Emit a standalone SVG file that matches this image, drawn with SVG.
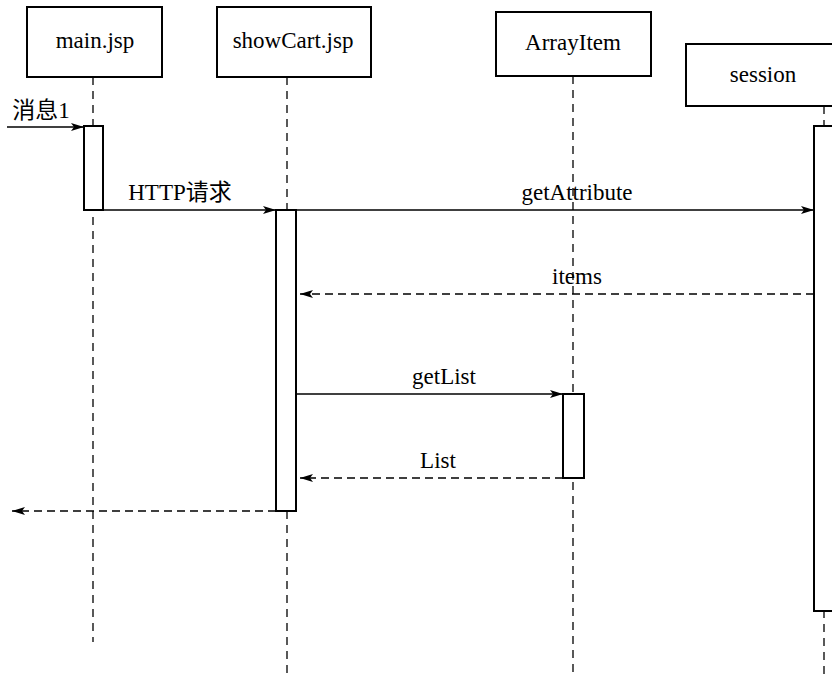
<svg xmlns="http://www.w3.org/2000/svg" width="832" height="675" viewBox="0 0 832 675">
  <style>
    .box { fill: #fff; stroke: #000; stroke-width: 2; }
    .act { fill: #fff; stroke: #000; stroke-width: 2; }
    .life { stroke: #000; stroke-width: 1.3; stroke-dasharray: 8 6; fill: none; }
    .msg { stroke: #000; stroke-width: 1.3; fill: none; marker-end: url(#arrow); }
    .ret { stroke: #000; stroke-width: 1.3; fill: none; stroke-dasharray: 8 5; marker-end: url(#arrow); }
    text { font-family: 'Liberation Serif', 'Noto Sans CJK SC', serif; font-size: 23px; fill: #000; text-anchor: middle; }
  </style>
  <defs>
    <marker id="arrow" markerWidth="14" markerHeight="10" refX="13" refY="5" orient="auto" markerUnits="userSpaceOnUse">
      <path d="M0,1 L13,5 L0,9 L3,5 Z" fill="#000"/>
    </marker>
  </defs>
  <rect width="832" height="675" fill="#fff"/>

  <!-- lifelines -->
  <g id="lifelines">
    <line class="life" x1="93" y1="77" x2="93" y2="642"/>
    <line class="life" x1="287" y1="77" x2="287" y2="675"/>
    <line class="life" x1="573" y1="76" x2="573" y2="675"/>
    <line class="life" x1="824" y1="106" x2="824" y2="675"/>
  </g>

  <!-- participants -->
  <g id="main-jsp">
    <rect class="box" x="27" y="7" width="135" height="70"/>
    <text x="95" y="48">main.jsp</text>
    <rect class="act" x="84" y="126" width="19" height="84"/>
  </g>
  <g id="showCart-jsp">
    <rect class="box" x="217" y="7" width="154" height="70"/>
    <text x="293" y="48">showCart.jsp</text>
    <rect class="act" x="276" y="210" width="20" height="301"/>
  </g>
  <g id="ArrayItem">
    <rect class="box" x="496" y="12" width="155" height="64"/>
    <text x="573" y="50">ArrayItem</text>
    <rect class="act" x="563" y="394" width="21" height="84"/>
  </g>
  <g id="session">
    <rect class="box" x="686" y="44" width="160" height="62"/>
    <text x="763" y="82">session</text>
    <rect class="act" x="814" y="126" width="22" height="485"/>
  </g>

  <!-- messages -->
  <g id="connectors">
    <line class="msg" x1="7" y1="127" x2="84" y2="127"/>
    <text x="41" y="118">消息1</text>

    <line class="msg" x1="103" y1="210" x2="276" y2="210"/>
    <text x="180" y="200">HTTP请求</text>

    <line class="msg" x1="296" y1="210" x2="814" y2="210"/>
    <text x="577" y="200">getAttribute</text>

    <line class="ret" x1="814" y1="294" x2="300" y2="294"/>
    <text x="577" y="284">items</text>

    <line class="msg" x1="296" y1="394" x2="563" y2="394"/>
    <text x="444" y="384">getList</text>

    <line class="ret" x1="563" y1="478" x2="300" y2="478"/>
    <text x="438" y="468">List</text>

    <line class="ret" x1="276" y1="511" x2="12" y2="511"/>
  </g>
</svg>
